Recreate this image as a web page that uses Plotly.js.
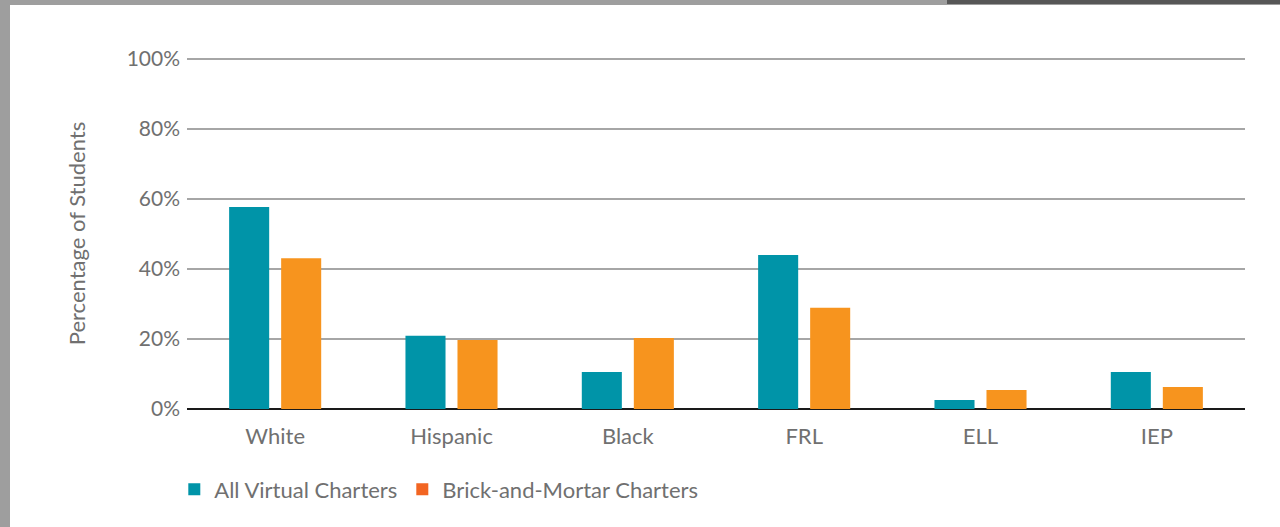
<!DOCTYPE html>
<html>
<head>
<meta charset="utf-8">
<script src="https://cdn.plot.ly/plotly-3.0.1.min.js"></script>
<style>
  html, body { margin: 0; padding: 0; background: #fff; }
  #frame { position: relative; width: 1280px; height: 527px; overflow: hidden; }
  #left-bar { position: absolute; left: 0; top: 0; width: 10px; height: 527px; background: #9e9e9e; }
  #top-bar { position: absolute; left: 0; top: 0; width: 1280px; height: 5px; background: #9e9e9e; }
  #top-dark { position: absolute; left: 947px; top: 0; width: 333px; height: 4px; background: #575757; }
  #chart { position: absolute; left: 0; top: 0; width: 1280px; height: 527px; }
</style>
</head>
<body>
<div id="frame">
  <div id="chart"></div>
  <div id="left-bar"></div>
  <div id="top-bar"></div>
  <div id="top-dark"></div>
</div>
<script>
// Categories et valeurs (en %)
const categories = ["White", "Hispanic", "Black", "FRL", "ELL", "IEP"];
const virtualCharters = [57.7, 20.9, 10.6, 44.0, 2.6, 10.6];
const brickCharters = [43.1, 19.7, 20.3, 28.9, 5.4, 6.3];
const seriesNames = ["All Virtual Charters", "Brick-and-Mortar Charters"];
const yTicks = [0, 20, 40, 60, 80, 100];

const teal = "#0094a8";
const orange = "#f7941e";
const legendOrange = "#f26522";
const textGray = "#707070";

const traces = [
  {
    x: categories, y: virtualCharters, type: "bar", name: seriesNames[0],
    offsetgroup: "v", marker: { color: teal }, showlegend: false, hoverinfo: "skip"
  },
  {
    x: categories, y: brickCharters, type: "bar", name: seriesNames[1],
    offsetgroup: "b", marker: { color: orange }, showlegend: false, hoverinfo: "skip"
  },
  // entrées de légende seulement
  {
    x: [categories[0]], y: [null], type: "bar", name: seriesNames[0],
    offsetgroup: "v", marker: { color: teal }, showlegend: true
  },
  {
    x: [categories[0]], y: [null], type: "bar", name: seriesNames[1],
    offsetgroup: "b", marker: { color: legendOrange }, showlegend: true
  }
];

const layout = {
  width: 1280,
  height: 527,
  margin: { l: 187, r: 35, t: 58, b: 118 },
  paper_bgcolor: "#fff",
  plot_bgcolor: "#fff",
  font: { family: "Lato, 'Open Sans', sans-serif", color: textGray, size: 20 },
  barmode: "group",
  bargap: 0.41,
  bargroupgap: 0.23,
  xaxis: {
    type: "category",
    tickfont: { size: 22, color: textGray },
    ticks: "",
    ticklabelstandoff: 12,
    showline: false,
    showgrid: false
  },
  yaxis: {
    range: [0, 100.3],
    tickvals: yTicks,
    ticktext: yTicks.map(v => v + "%"),
    tickfont: { size: 21, color: textGray },
    showgrid: true,
    gridcolor: "#a6a6a6",
    gridwidth: 2,
    zeroline: true,
    zerolinecolor: "#1a1a1a",
    zerolinewidth: 2,
    ticklabelstandoff: 6,
    title: { text: "Percentage of Students", font: { size: 22, color: textGray }, standoff: 34 }
  },
  legend: {
    orientation: "h",
    x: -0.012,
    xanchor: "left",
    y: -0.229,
    yanchor: "middle",
    font: { size: 22, color: textGray },
    traceorder: "normal"
  }
};

Plotly.newPlot("chart", traces, layout, { displayModeBar: false, staticPlot: true });
</script>
</body>
</html>
